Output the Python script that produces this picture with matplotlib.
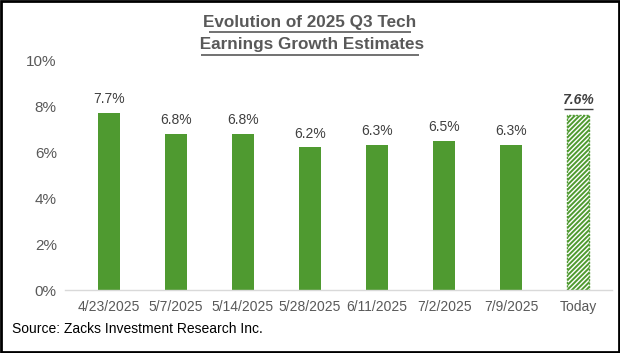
import matplotlib
matplotlib.use("Agg")
import matplotlib.pyplot as plt
from matplotlib.lines import Line2D
from matplotlib.patches import Rectangle

plt.rcParams['font.family'] = ['Liberation Sans', 'DejaVu Sans']
plt.rcParams['hatch.linewidth'] = 1.4

categories = ["4/23/2025", "5/7/2025", "5/14/2025", "5/28/2025", "6/11/2025", "7/2/2025", "7/9/2025", "Today"]
values = [7.7, 6.8, 6.8, 6.2, 6.3, 6.5, 6.3, 7.6]
labels = ["7.7%", "6.8%", "6.8%", "6.2%", "6.3%", "6.5%", "6.3%", "7.6%"]
yticks = [0, 2, 4, 6, 8, 10]
ytick_labels = ["0%", "2%", "4%", "6%", "8%", "10%"]

green = "#4F9A30"
gray_text = "#595959"

fig = plt.figure(figsize=(6.2, 3.53), dpi=100)
ax = fig.add_axes([0.105, 0.178, 0.882, 0.652])

x = list(range(len(categories)))
bars = ax.bar(x[:-1], values[:-1], width=0.33, color=green, zorder=2)
hb = ax.bar(x[-1], values[-1], width=0.33, facecolor="white", edgecolor=green,
            hatch="///////", linewidth=1.0, linestyle=(0, (1.5, 1)), zorder=2)

ax.set_xlim(-0.65, 7.5)
ax.set_ylim(0, 10)
ax.set_yticks(yticks)
ax.set_yticklabels(ytick_labels, fontsize=11, color=gray_text)
ax.set_xticks(x)
ax.set_xticklabels(categories, fontsize=10, color=gray_text)
ax.tick_params(axis='both', length=0, pad=6)
ax.tick_params(axis='x', pad=7)
for s in ["top", "right", "left"]:
    ax.spines[s].set_visible(False)
ax.spines["bottom"].set_color("#D9D9D9")
ax.spines["bottom"].set_linewidth(1.0)

for i, (v, lab) in enumerate(zip(values, labels)):
    if i < len(values) - 1:
        ax.text(i, v + 0.3, lab, ha="center", va="bottom", fontsize=10, color="#404040")

tlab = ax.text(x[-1], values[-1] + 0.35, labels[-1], ha="center", va="bottom", fontsize=10,
               color="#404040", fontweight="bold", fontstyle="italic")

t1 = fig.text(0.5, 1 - 22 / 353, "Evolution of 2025 Q3 Tech", ha="center", va="center",
              fontsize=12.3, fontweight="bold", color=gray_text)
t2 = fig.text(0.5, 1 - 45 / 353, " Earnings Growth Estimates", ha="center", va="center",
              fontsize=12.3, fontweight="bold", color=gray_text)

fig.canvas.draw()
renderer = fig.canvas.get_renderer()
W, H = fig.bbox.width, fig.bbox.height

def underline(t, lw=1.0, color=gray_text, off=2.5, inset=0.0):
    bb = t.get_window_extent(renderer=renderer)
    y = bb.y0 - off
    fig.add_artist(Line2D([(bb.x0 + inset) / W, (bb.x1 - inset) / W], [y / H, y / H],
                          transform=fig.transFigure, color=color, lw=lw,
                          solid_capstyle="butt"))

underline(tlab, lw=1.0, color="#404040", off=1.5, inset=1.5)
underline(t1, lw=1.2, off=2.0, inset=6)
underline(t2, lw=1.2, off=2.0, inset=6)

fig.text(12 / 620, 1 - 329 / 353, "Source: Zacks Investment Research Inc.", ha="left", va="center",
         fontsize=10, color="black")

fig.add_artist(Rectangle((0.002, 0.003), 0.996, 0.994, transform=fig.transFigure,
                         fill=False, edgecolor="black", linewidth=2))

fig.savefig("out.png", dpi=100)
